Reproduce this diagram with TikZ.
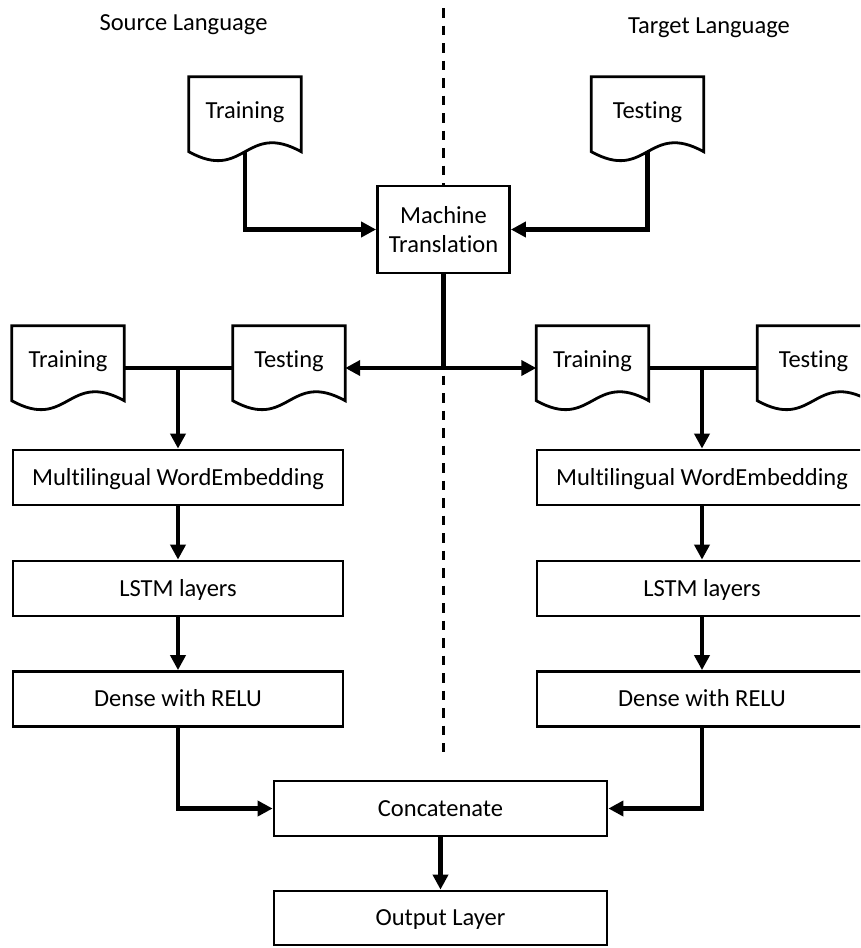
\documentclass[tikz,border=0pt]{standalone}
\usepackage{fontspec}
\setmainfont{Carlito}[Ligatures={NoCommon}]
\usetikzlibrary{arrows.meta,calc}
\newcommand\docoutline[1]{%
  \draw[docline] ($(#1.south west)+(0,-9.5)$) -- (#1.north west) -- (#1.north east)
    -- ($(#1.south east)+(0,-9.5)$)
    .. controls ($(#1.south east)+(-56,-40.5)$) and ($(#1.south west)+(56,21.5)$)
    .. ($(#1.south west)+(0,-9.5)$) -- cycle;}
\begin{document}
\begin{tikzpicture}[x=1pt,y=-1pt,
  every node/.style={font=\fontsize{24.5}{29}\selectfont},
  boxnode/.style={draw, line width=2.8pt, fill=white, minimum width=330pt, minimum height=55pt, inner sep=0pt},
  boxtxt/.style={text height=20pt, text depth=5pt},
  docnode/.style={minimum width=112pt, minimum height=84pt, inner sep=0pt, text height=16pt, text depth=18pt},
  docline/.style={line width=2.8pt, line join=miter},
  conn/.style={line width=4.5pt},
  arr/.style={conn, -{Triangle[length=15pt,width=15pt]}},
  divider/.style={line width=3pt, dash pattern=on 9.5pt off 8pt}
]
\useasboundingbox (0,0) rectangle (860,948);
\clip (0,0) rectangle (860,948);

% divider
\coordinate (dtop) at (443.5,8);
\coordinate (dbot) at (443.5,752);
\draw[divider] (dtop) -- (dbot);

% headings
\node[anchor=base] (srcl) at (183.5,30) {Source Language};
\node[anchor=base] (tgtl) at (709,33) {Target Language};

% top documents
\node[docnode] (tr1) at (245,119) {Training};
\node[docnode] (te1) at (647.5,119) {Testing};
\docoutline{tr1}
\docoutline{te1}

% machine translation
\node[boxnode, minimum width=132pt, minimum height=87pt, align=center] (mt) at (443.5,229.5) {Machine\\Translation};

% middle documents
\node[docnode] (tr2) at (68,368) {Training};
\node[docnode] (te2) at (289,368) {Testing};
\node[docnode] (tr3) at (592.5,368) {Training};
\node[docnode] (te3) at (813.5,368) {Testing};
\docoutline{tr2}
\docoutline{te2}
\docoutline{tr3}
\docoutline{te3}

% left column
\node[boxnode,boxtxt] (me1) at (178,477.5) {Multilingual WordEmbedding};
\node[boxnode,boxtxt] (ls1) at (178,588.5) {LSTM layers};
\node[boxnode,boxtxt] (de1) at (178,699) {Dense with RELU};

% right column
\node[boxnode,boxtxt] (me2) at (702,477.5) {Multilingual WordEmbedding};
\node[boxnode,boxtxt] (ls2) at (702,588.5) {LSTM layers};
\node[boxnode,boxtxt] (de2) at (702,699) {Dense with RELU};

% bottom
\node[boxnode,boxtxt, minimum width=333pt] (cc) at (440.5,808.5) {Concatenate};
\node[boxnode,boxtxt, minimum width=333pt, minimum height=54pt] (ol) at (440.5,918) {Output Layer};

% connectors
\draw[arr] ($(tr1.south)+(0,-9.5)$) |- (mt.west);
\draw[arr] ($(te1.south)+(0,-9.5)$) |- (mt.east);

\coordinate (j1) at (mt.south |- te2.east);
\draw[conn] (mt.south) -- (j1);
\draw[arr] (j1) -- (te2.east);
\draw[arr] (j1) -- (tr3.west);

\draw[conn] (tr2.east) -- (te2.west);
\coordinate (j2) at (me1.north |- tr2.east);
\draw[arr] (j2) -- (me1.north);

\draw[conn] (tr3.east) -- (te3.west);
\coordinate (j3) at (me2.north |- tr3.east);
\draw[arr] (j3) -- (me2.north);

\draw[arr] (me1.south) -- (ls1.north);
\draw[arr] (ls1.south) -- (de1.north);
\draw[arr] (me2.south) -- (ls2.north);
\draw[arr] (ls2.south) -- (de2.north);

\draw[arr] (de1.south) |- (cc.west);
\draw[arr] (de2.south) |- (cc.east);
\draw[arr] (cc.south) -- (ol.north);
\end{tikzpicture}
\end{document}
